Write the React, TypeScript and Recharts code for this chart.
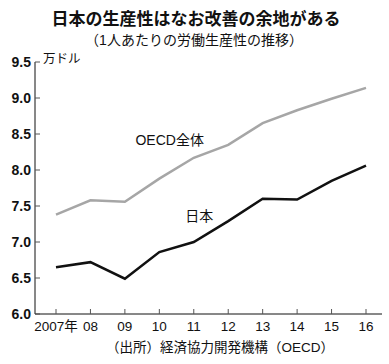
import { LineChart, Line, XAxis, YAxis, ReferenceDot } from 'recharts'

const years = [2007, 2008, 2009, 2010, 2011, 2012, 2013, 2014, 2015, 2016]
const yearLabels = ['2007年', '08', '09', '10', '11', '12', '13', '14', '15', '16']
const oecd = [7.38, 7.58, 7.56, 7.88, 8.17, 8.35, 8.65, 8.83, 8.99, 9.14]
const japan = [6.65, 6.72, 6.49, 6.86, 7.0, 7.29, 7.6, 7.59, 7.85, 8.06]
const yTicks = [6.0, 6.5, 7.0, 7.5, 8.0, 8.5, 9.0, 9.5]

const font = '"Liberation Sans", "Noto Sans CJK JP", sans-serif'

export default function App() {
  const chartData = years.map((year, i) => ({
    year,
    oecd: oecd[i],
    japan: japan[i],
  }))

  return (
    <div style={{ position: 'absolute', left: 0, top: 0, width: 389, height: 364, background: '#fff', fontFamily: font }}>
      <div style={{ position: 'absolute', left: 0, width: 392, top: 10, textAlign: 'center', fontSize: 17, fontWeight: 'bold', lineHeight: '20px', color: '#111' }}>
        日本の生産性はなお改善の余地がある
      </div>
      <div style={{ position: 'absolute', left: 0, width: 388, top: 31, textAlign: 'center', fontSize: 14, lineHeight: '18px', color: '#111' }}>
        （1人あたりの労働生産性の推移）
      </div>
      <LineChart width={389} height={364} data={chartData} margin={{ top: 62, right: 7, left: 0, bottom: 0 }}>
        <XAxis
          dataKey="year"
          type="number"
          domain={[2007, 2016]}
          ticks={years}
          tickFormatter={(v: number) => yearLabels[years.indexOf(v)]}
          padding={{ left: 21, right: 16 }}
          height={50}
          tickSize={-5}
          tickMargin={12}
          axisLine={{ stroke: '#111', strokeWidth: 1 }}
          tickLine={{ stroke: '#555', strokeWidth: 1 }}
          tick={{ fill: '#111', fontSize: 13.5, fontFamily: font }}
        />
        <YAxis
          domain={[6, 9.5]}
          ticks={yTicks}
          width={35}
          tickSize={-5}
          tickMargin={9}
          tickFormatter={(v: number) => v.toFixed(1)}
          axisLine={{ stroke: '#111', strokeWidth: 1 }}
          tickLine={{ stroke: '#555', strokeWidth: 1 }}
          tick={{ fill: '#111', fontSize: 14, fontWeight: 'bold', fontFamily: font }}
          label={{ value: '万ドル', position: 'insideTopLeft', offset: 0, dx: 43, dy: -8, fill: '#111', fontSize: 12.5, fontFamily: font }}
        />
        <Line type="linear" dataKey="oecd" stroke="#a6a6a6" strokeWidth={2.5} dot={false} isAnimationActive={false} />
        <Line type="linear" dataKey="japan" stroke="#111" strokeWidth={2.5} dot={false} isAnimationActive={false} />
        <ReferenceDot
          x={2010.3}
          y={8.42}
          r={0}
          fill="none"
          stroke="none"
          label={{ value: 'OECD全体', position: 'center', fill: '#111', fontSize: 14, fontFamily: font }}
        />
        <ReferenceDot
          x={2011.16}
          y={7.36}
          r={0}
          fill="none"
          stroke="none"
          label={{ value: '日本', position: 'center', fill: '#111', fontSize: 14, fontFamily: font }}
        />
      </LineChart>
      <div style={{ position: 'absolute', left: 0, width: 440, top: 339, textAlign: 'center', fontSize: 13.5, lineHeight: '18px', color: '#111' }}>
        （出所）経済協力開発機構（OECD）
      </div>
    </div>
  )
}
